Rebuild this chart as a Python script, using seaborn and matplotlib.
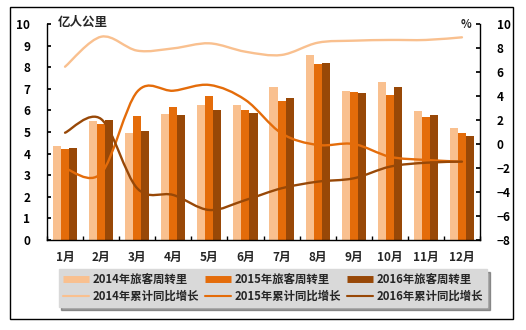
import numpy as np
import pandas as pd
import matplotlib
matplotlib.use("Agg")
import matplotlib.pyplot as plt
import seaborn as sns
from matplotlib.path import Path
from matplotlib.patches import PathPatch, Rectangle
from matplotlib.lines import Line2D

months = ["1月", "2月", "3月", "4月", "5月", "6月", "7月", "8月", "9月", "10月", "11月", "12月"]

# 旅客周转量（亿人公里）
turnover_2014 = [4.33, 5.50, 4.97, 5.85, 6.25, 6.25, 7.08, 8.56, 6.91, 7.33, 5.97, 5.19]
turnover_2015 = [4.23, 5.38, 5.75, 6.17, 6.67, 6.03, 6.44, 8.15, 6.85, 6.71, 5.69, 4.95]
turnover_2016 = [4.28, 5.56, 5.05, 5.79, 6.03, 5.88, 6.59, 8.21, 6.81, 7.08, 5.79, 4.81]

# 累计同比增长（%）
growth_2014 = [6.44, 8.94, 7.78, 7.97, 8.39, 7.69, 7.42, 8.44, 8.61, 8.67, 8.67, 8.89]
growth_2015 = [-2.03, -2.44, 4.36, 4.44, 4.92, 3.67, 0.89, -0.08, 0.00, -1.06, -1.33, -1.47]
growth_2016 = [0.94, 2.08, -3.69, -4.25, -5.50, -4.67, -3.69, -3.14, -2.86, -1.89, -1.56, -1.47]

bar_labels = ["2014年旅客周转里", "2015年旅客周转里", "2016年旅客周转里"]
line_labels = ["2014年累计同比增长", "2015年累计同比增长", "2016年累计同比增长"]
c_light, c_mid, c_dark = "#F9C08F", "#E46C0A", "#984807"

sns.set_theme(style="white")
plt.rcParams["font.family"] = ["Noto Sans CJK SC", "DejaVu Sans"]
plt.rcParams["font.weight"] = "bold"

df = pd.DataFrame({
    "月份": months * 3,
    "周转量": turnover_2014 + turnover_2015 + turnover_2016,
    "系列": [bar_labels[0]] * 12 + [bar_labels[1]] * 12 + [bar_labels[2]] * 12,
})

fig = plt.figure(figsize=(5.26, 3.30), dpi=100)
ax = fig.add_axes([47 / 526, 1 - 240 / 330, 433 / 526, 216 / 330])

sns.barplot(data=df, x="月份", y="周转量", hue="系列", order=months,
            hue_order=bar_labels, palette=[c_light, c_mid, c_dark],
            width=0.67, gap=0, saturation=1, ax=ax, legend=False, linewidth=0)
ax.set_xlim(-0.5, 11.5)
ax.set_ylim(0, 10)
ax.set_yticks(range(0, 11))
ax.set_xlabel("")
ax.set_ylabel("")
for s in ["left", "bottom"]:
    ax.spines[s].set_color("black")
    ax.spines[s].set_linewidth(1)
ax.spines["top"].set_visible(False)
ax.spines["right"].set_visible(False)
ax.tick_params(axis="y", direction="in", length=3, left=True, labelsize=8.5, pad=12, colors="black")
ax.tick_params(axis="x", which="major", length=0, labelsize=8.5, pad=8)
ax.set_xticks(np.arange(-0.5, 12.0, 1.0), minor=True)
ax.tick_params(axis="x", which="minor", direction="in", length=3, bottom=True, color="black")
for t in ax.get_xticklabels() + ax.get_yticklabels():
    t.set_fontweight("bold")

ax2 = ax.twinx()
ax2.set_ylim(-8, 10)
ax2.set_yticks(range(-8, 11, 2))
ax2.set_yticklabels([("−" + str(-v)) if v < 0 else str(v) for v in range(-8, 11, 2)])
for s in ["left", "top", "bottom"]:
    ax2.spines[s].set_visible(False)
ax2.spines["right"].set_color("black")
ax2.spines["right"].set_linewidth(1)
ax2.tick_params(axis="y", direction="in", length=3, right=True, labelsize=8.5, pad=12, colors="black")
for t in ax2.get_yticklabels():
    t.set_fontweight("bold")


def smooth_path(xs, ys):
    # Catmull-Rom curve through the points, expressed as cubic Bezier segments
    xs = np.asarray(xs, float)
    ys = np.asarray(ys, float)
    n = len(xs)
    verts = [(xs[0], ys[0])]
    codes = [Path.MOVETO]
    for i in range(n - 1):
        p0 = (xs[max(i - 1, 0)], ys[max(i - 1, 0)])
        p1 = (xs[i], ys[i])
        p2 = (xs[i + 1], ys[i + 1])
        p3 = (xs[min(i + 2, n - 1)], ys[min(i + 2, n - 1)])
        c1 = (p1[0] + (p2[0] - p0[0]) / 6, p1[1] + (p2[1] - p0[1]) / 6)
        c2 = (p2[0] - (p3[0] - p1[0]) / 6, p2[1] - (p3[1] - p1[1]) / 6)
        verts += [c1, c2, p2]
        codes += [Path.CURVE4] * 3
    return Path(verts, codes)


xpos = np.arange(len(months))
for vals, col in [(growth_2014, c_light), (growth_2015, c_mid), (growth_2016, c_dark)]:
    ax2.add_patch(PathPatch(smooth_path(xpos, vals), facecolor="none",
                            edgecolor=col, linewidth=1.7, capstyle="round"))

fig.text(58 / 526, 1 - 22 / 330, "亿人公里", fontsize=9, fontweight="bold", va="center", ha="left")
fig.text(466 / 526, 1 - 24 / 330, "%", fontsize=8, fontweight="bold", va="center", ha="center")

handles = []
labels = []
for bl, ll, col in zip(bar_labels, line_labels, [c_light, c_mid, c_dark]):
    handles.append(Line2D([], [], color=col, linewidth=5, solid_capstyle="butt"))
    labels.append(bl)
    handles.append(Line2D([], [], color=col, linewidth=1.5))
    labels.append(ll)
leg = fig.legend(handles, labels, ncol=3, loc="center",
                 bbox_to_anchor=(273 / 526, 1 - 288 / 330),
                 prop={"weight": "bold", "size": 8.2}, frameon=True,
                 facecolor="#D9D9D9", edgecolor="#D9D9D9", fancybox=False, shadow=True,
                 handlelength=2.3, handletextpad=0.3, columnspacing=0.5,
                 labelspacing=0.3, borderpad=0.4)
leg.get_frame().set_alpha(1)

fig.patches.append(Rectangle((10 / 526, 11 / 330), 503 / 526, 312 / 330,
                             transform=fig.transFigure, fill=False,
                             edgecolor="black", linewidth=1))

fig.savefig("out.png", dpi=100)
